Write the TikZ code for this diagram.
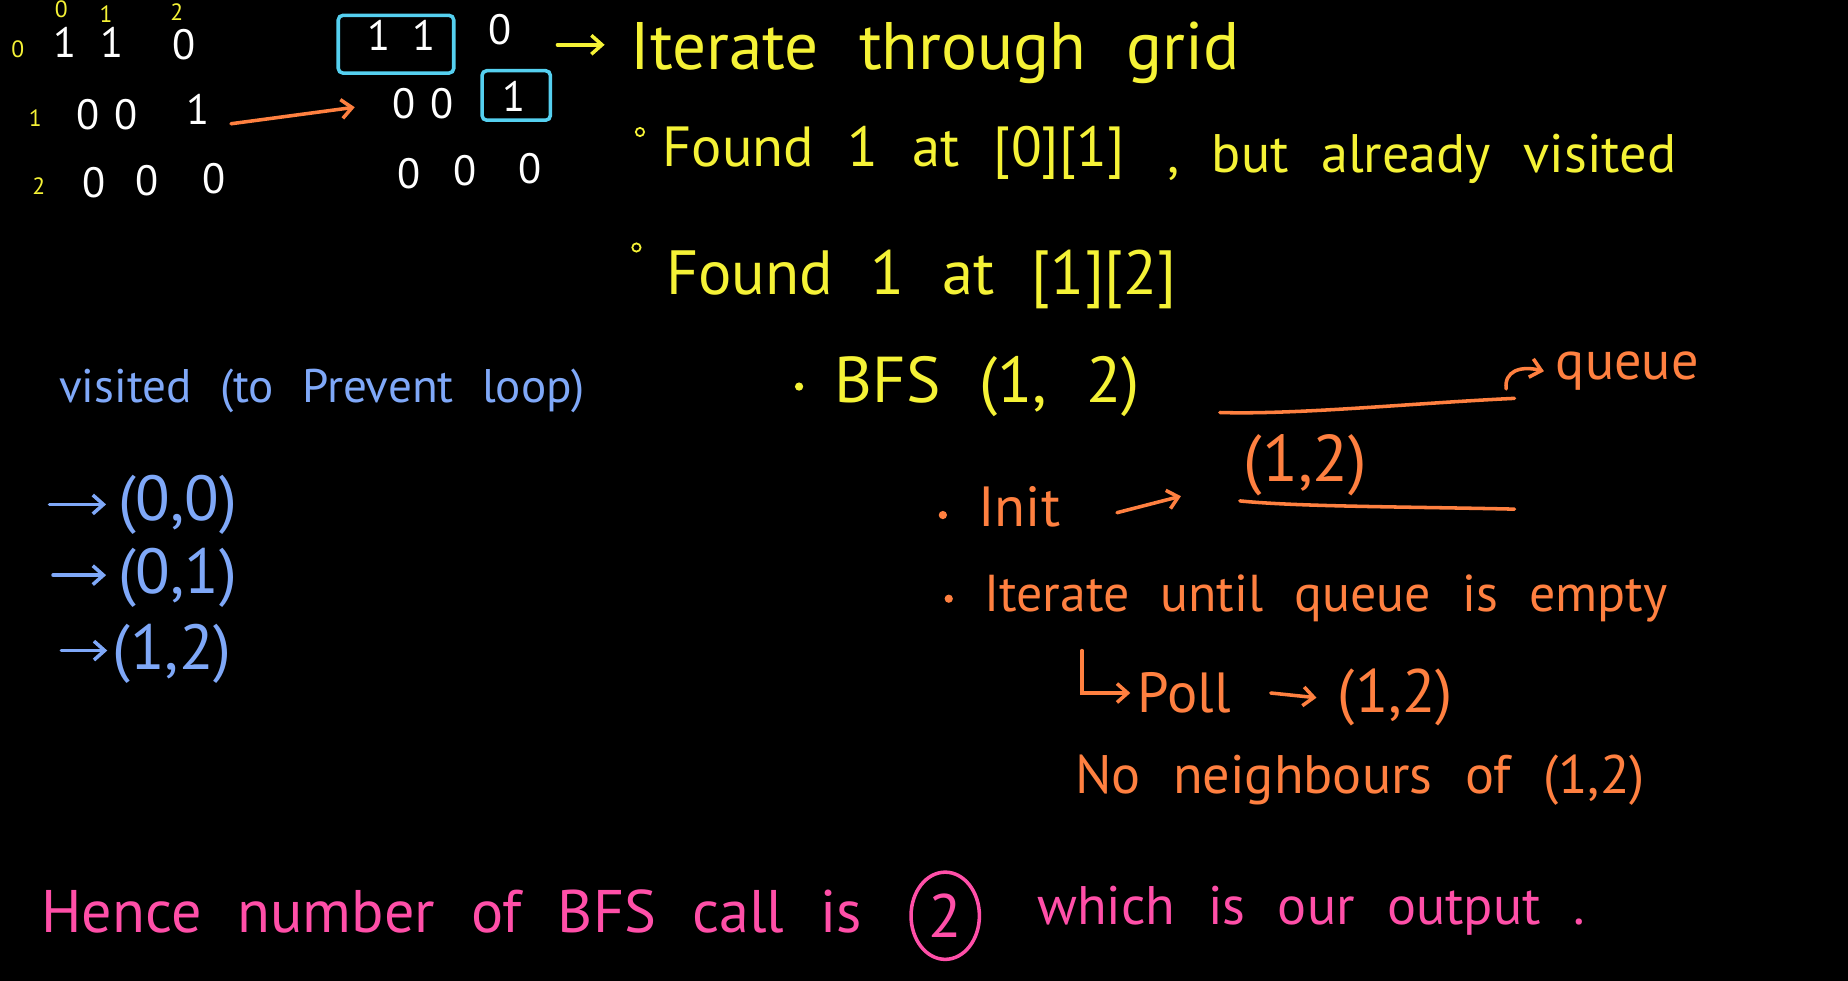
\documentclass[tikz,border=0pt]{standalone}
\usepackage{fontspec}
\setmainfont{PT Sans}
\usetikzlibrary{arrows.meta,shapes.geometric}
\definecolor{hy}{HTML}{F5F236}
\definecolor{ho}{HTML}{FF8040}
\definecolor{hb}{HTML}{7FA8F8}
\definecolor{hc}{HTML}{55D0F0}
\definecolor{hp}{HTML}{FF4FA8}
\newcommand\hsz[1]{\fontsize{#1}{#1}\selectfont\spaceskip=0.6em\relax}
\begin{document}
\begin{tikzpicture}[x=1pt,y=-1pt,
  every node/.style={inner sep=0pt,anchor=west},
  dig/.style={anchor=center,text=white,font=\hsz{36}},
  idx/.style={anchor=center,text=hy,font=\hsz{20}},
  cybox/.style={draw=hc,line width=3pt,rounded corners=4pt,anchor=center},
  harrow/.style={line width=3pt,line cap=round,-{Straight Barb[length=9pt,width=16pt,line width=3pt]}},
  hline/.style={line width=3pt,line cap=round},
  ring/.style={circle,draw=#1,line width=1.5pt,minimum size=7pt,anchor=center},
  dot/.style={circle,fill=#1,minimum size=7pt,anchor=center}]
\fill[black] (0,0) rectangle (1568,832);
\useasboundingbox (0,0) rectangle (1568,832);
% left grid
\node[idx] (c0) at (52,8) {0};
\node[idx] (c1) at (90,12) {1};
\node[idx] (c2) at (150,10) {2};
\node[idx] (r0) at (15,42) {0};
\node[idx] (r1) at (30,100) {1};
\node[idx] (r2) at (33,158) {2};
\node[dig] (a00) at (55,36) {1};
\node[dig] (a01) at (95,36) {1};
\node[dig] (a02) at (156,38) {0};
\node[dig] (a10) at (75,97) {0};
\node[dig] (a11) at (107,97) {0};
\node[dig] (a12) at (168,93) {1};
\node[dig] (a20) at (80,155) {0};
\node[dig] (a21) at (125,153) {0};
\node[dig] (a22) at (182,152) {0};
% right grid
\node[dig] (b00) at (322,30) {1};
\node[dig] (b01) at (360,30) {1};
\node[dig] (b02) at (424,25) {0};
\node[dig] (b10) at (343,88) {0};
\node[dig] (b11) at (375,88) {0};
\node[dig] (b12) at (436,82) {1};
\node[dig] (b20) at (347,147) {0};
\node[dig] (b21) at (395,145) {0};
\node[dig] (b22) at (450,143) {0};
\node[cybox,minimum width=98pt,minimum height=49pt] (box1) at (336,37.5) {};
\node[cybox,minimum width=58pt,minimum height=42pt] (box2) at (438,81) {};
\draw[harrow,ho] ([xshift=18pt,yshift=-12pt]a12.east) -- ([xshift=-32pt,yshift=-3pt]b10.west);
% yellow texts
\node[text=hy,font=\hsz{57}] (it) at (535,45) {Iterate through grid};
\coordinate (ya) at (473,38);
\draw[harrow,hy] (ya) -- ([xshift=-22pt]ya -| it.west);
\node[ring=hy] (bu1) at (543,112) {};
\node[text=hy,font=\hsz{48}] (f1) at (562,130) {Found 1 at [0][1]};
\node[text=hy,font=\hsz{46}] (f1b) at (990,135) {, but already visited};
\node[ring=hy] (bu2) at (540,210) {};
\node[text=hy,font=\hsz{53}] (f2) at (565,237) {Found 1 at [1][2]};
% visited list
\node[text=hb,font=\hsz{40}] (vis) at (50,332) {visited (to Prevent loop)};
\node[text=hb,font=\hsz{54}] (v1) at (100,428) {(0,0)};
\node[text=hb,font=\hsz{54}] (v2) at (100,490) {(0,1)};
\node[text=hb,font=\hsz{54}] (v3) at (95,555) {(1,2)};
\coordinate (va1) at (42,428);
\coordinate (va2) at (45,488);
\coordinate (va3) at (52,552);
\draw[harrow,hb] (va1) -- ([xshift=-10pt]va1 -| v1.west);
\draw[harrow,hb] (va2) -- ([xshift=-10pt]va2 -| v2.west);
\draw[harrow,hb] (va3) -- ([xshift=-4pt]va3 -| v3.west);
% BFS
\node[dot=hy] (bu3) at (678,328) {};
\node[text=hy,font=\hsz{55}] (bfs) at (708,328) {BFS (1, 2)};
\coordinate (ql1) at (1035,350);
\coordinate (ql2) at (1285,338);
\draw[hline,ho] (ql1) .. controls (1100,352) and (1200,342) .. (ql2);
\node[text=ho,font=\hsz{46}] (queue) at (1320,315) {queue};
\coordinate (qa) at (1278,330);
\draw[harrow,ho] (qa) .. controls (1276,315) and (1290,310) .. ([xshift=-10pt]queue.west);
\node[text=ho,font=\hsz{56}] (qi) at (1055,395) {(1,2)};
\coordinate (qb1) at (1052,425);
\coordinate (qb2) at (1285,432);
\draw[hline,ho] (qb1) .. controls (1100,430) and (1200,430) .. (qb2);
\node[dot=ho] (bu4) at (800,437) {};
\node[text=ho,font=\hsz{48}] (init) at (830,430) {Init};
\coordinate (ia) at (1002,421);
\draw[harrow,ho] ([xshift=48pt,yshift=-5pt]init.east) -- (ia);
\node[dot=ho] (bu5) at (805,508) {};
\node[text=ho,font=\hsz{44}] (iter) at (835,508) {Iterate until queue is empty};
\node[text=ho,font=\hsz{48}] (poll) at (965,588) {Poll};
\coordinate (hk) at (918,552);
\draw[harrow,ho] (hk) |- ([xshift=-6pt]poll.west);
\node[text=ho,font=\hsz{52}] (pp) at (1135,592) {(1,2)};
\draw[harrow,ho] ([xshift=34pt]poll.east) -- ([xshift=-18pt]pp.west);
\node[text=ho,font=\hsz{46}] (nn) at (912,662) {No neighbours of (1,2)};
% conclusion
\node[text=hp,font=\hsz{51}] (h1) at (35,773) {Hence number of BFS call is};
\node[text=hp,font=\hsz{52},draw=hp,line width=3pt,ellipse,minimum width=58pt,minimum height=74pt,anchor=center] (two) at (802,777) {2};
\node[text=hp,font=\hsz{46}] (h2) at (880,773) {which is our output .};
\end{tikzpicture}
\end{document}
